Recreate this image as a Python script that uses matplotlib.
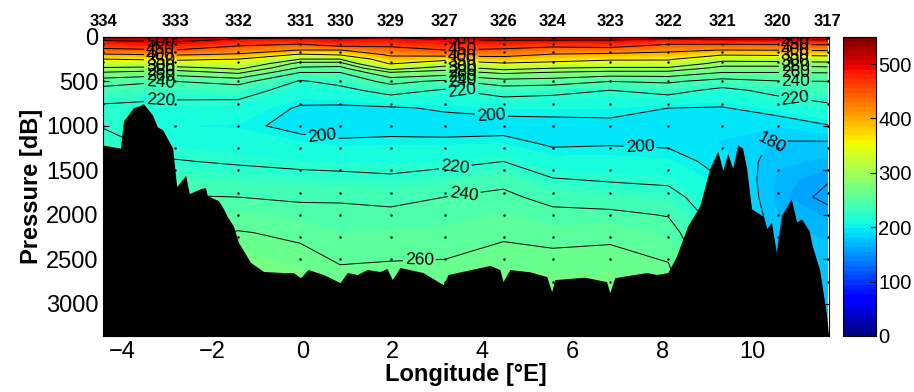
import numpy as np
import matplotlib
matplotlib.use("Agg")
import matplotlib.pyplot as plt
from matplotlib.colors import Normalize
from matplotlib.cm import ScalarMappable

plt.rcParams['font.family'] = ['Liberation Sans', 'DejaVu Sans']

# station numbers and their longitudes
stations = ['334', '333', '332', '331', '330', '329', '327', '326',
            '324', '323', '322', '321', '320', '317']
station_lon = [-4.42, -2.82, -1.42, -0.04, 0.84, 1.96, 3.16, 4.47,
               5.56, 6.84, 8.13, 9.33, 10.56, 11.67]

# pressure levels of the gridded section [dB]
pres = [0, 50, 100, 150, 200, 250, 300, 350, 400, 500, 600, 800, 1000,
        1200, 1400, 1600, 1800, 2000, 2200, 2400, 2600, 2800, 3000, 3400]

# gridded values at each station (one list per station, top -> bottom)
st334 = [540, 492, 468, 438, 394, 350, 323, 297, 279, 249, 233, 216, 219, 226, 232, 236, 240, 245, 247, 249, 251, 252, 254, 255]
st333 = [530, 505, 477, 448, 404, 360, 322, 291, 271, 240, 227, 214, 205, 213, 221, 231, 241, 250, 256, 258, 259, 260, 261, 262]
st332 = [515, 478, 451, 424, 394, 350, 328, 306, 284, 247, 229, 212, 204, 210, 218, 228, 240, 252, 261, 265, 266, 267, 267, 268]
st331 = [510, 475, 435, 398, 344, 300, 272, 257, 240, 218, 211, 198, 195, 206, 215, 226, 237, 247, 257, 262, 265, 266, 267, 267]
st330 = [510, 483, 456, 398, 354, 300, 272, 254, 240, 226, 214, 197, 193, 203, 214, 225, 238, 244, 250, 256, 261, 264, 265, 266]
st329 = [505, 481, 455, 432, 408, 381, 354, 312, 279, 246, 228, 198, 194, 204, 213, 223, 235, 244, 251, 257, 262, 265, 266, 266]
st327 = [515, 489, 469, 449, 417, 366, 316, 289, 272, 236, 218, 202, 193, 204, 215, 228, 240, 246, 252, 258, 262, 266, 266, 267]
st326 = [530, 492, 467, 442, 415, 380, 346, 310, 284, 252, 229, 205, 194, 205, 220, 235, 244, 251, 258, 262, 265, 268, 268, 268]
st324 = [530, 490, 459, 427, 396, 369, 338, 301, 279, 250, 226, 205, 195, 198, 208, 221, 234, 245, 253, 261, 264, 267, 268, 268]
st323 = [525, 491, 464, 428, 389, 357, 326, 296, 274, 240, 220, 205, 196, 199, 208, 218, 231, 244, 256, 262, 264, 267, 268, 268]
st322 = [520, 472, 439, 411, 384, 356, 326, 296, 274, 243, 227, 200, 194, 198, 206, 216, 227, 239, 248, 256, 262, 264, 265, 265]
st321 = [535, 476, 436, 398, 354, 310, 289, 274, 260, 232, 215, 199, 193, 189, 195, 200, 205, 208, 212, 215, 216, 217, 218, 220]
st320 = [535, 479, 438, 400, 358, 314, 289, 274, 260, 239, 226, 207, 191, 178, 172, 168, 167, 170, 173, 176, 177, 178, 179, 180]
st317 = [535, 481, 442, 404, 362, 318, 291, 276, 261, 240, 232, 215, 199, 177, 168, 161, 157, 164, 168, 172, 173, 175, 176, 178]

# bottom topography along the section
bathy_lon = [-4.42, -4.04, -3.97, -3.75, -3.61, -3.53, -3.33, -3.22, -3.10, -2.88,
             -2.79, -2.59, -2.51, -2.26, -2.15, -2.11, -1.86, -1.75, -1.66, -1.53,
             -1.42, -1.15, -0.86, -0.42, -0.20, -0.04, 0.13, 0.47, 0.84, 1.00,
             1.22, 1.44, 1.73, 1.88, 2.00, 2.17, 2.68, 3.13, 3.24, 4.17,
             4.39, 4.46, 4.61, 5.06, 5.43, 5.54, 5.61, 6.27, 6.76, 6.83,
             6.94, 7.65, 7.87, 8.12, 8.31, 8.56, 8.83, 9.05, 9.23, 9.34,
             9.45, 9.56, 9.67, 9.78, 9.87, 9.98, 10.22, 10.31, 10.42, 10.53,
             10.64, 10.86, 10.98, 11.09, 11.26, 11.33, 11.49, 11.64, 11.70]
bathy_p = [1216, 1250, 943, 795, 773, 750, 875, 1011, 1045, 1250,
           1682, 1557, 1761, 1705, 1693, 1784, 1841, 1932, 2023, 2125,
           2307, 2534, 2636, 2648, 2648, 2705, 2614, 2670, 2761, 2648,
           2670, 2614, 2636, 2602, 2727, 2591, 2648, 2784, 2670, 2568,
           2614, 2750, 2614, 2640, 2693, 2864, 2727, 2700, 2750, 2875,
           2705, 2648, 2670, 2648, 2466, 2125, 1898, 1477, 1284, 1500,
           1307, 1477, 1216, 1250, 1477, 1932, 2011, 2159, 2080, 2420,
           2011, 1818, 2080, 2045, 2182, 2352, 2614, 3102, 3400]

# bottle sample depths and deepest sample at each station
sample_p = [10, 75, 175, 280, 500, 750, 1000, 1250, 1500, 1750, 2000, 2250, 2500, 2750]
station_maxp = [1100, 1500, 2250, 2600, 2700, 2600, 2750, 2700, 2750, 2750, 2600, 1250, 2250, 3000]

field = np.column_stack([st334, st333, st332, st331, st330, st329, st327,
                         st326, st324, st323, st322, st321, st320, st317])

fig = plt.figure(figsize=(9.14, 3.92), dpi=100)
ax = fig.add_axes([0.113, 0.143, 0.794, 0.763])
cax = fig.add_axes([0.922, 0.143, 0.036, 0.763])

cmap = plt.get_cmap('jet', 64)
norm = Normalize(0, 550)
ax.contourf(station_lon, pres, field, levels=np.arange(0, 556, 5),
            cmap=cmap, norm=norm, zorder=1)
lines = [160, 180, 200, 220, 240, 260, 280, 300, 350, 400, 450, 500]
cs = ax.contour(station_lon, pres, field, levels=lines, colors='k',
                linewidths=0.7, zorder=2)

# where the labels sit: three stacks near the surface plus a few deep ones
stack_lon = [-3.15, 3.55, 10.95]
stack_levels = [500, 450, 400, 350, 300, 280, 260, 240, 220]
stack_guess = [40, 140, 200, 255, 330, 385, 440, 510, 680]
deep_labels = [(200, 0.44, 1100), (200, 4.2, 850), (200, 7.5, 1250),
               (220, 3.4, 1455), (240, 3.6, 1700), (260, 2.6, 2450),
               (180, 10.42, 1190)]


def on_line(level, lon, p):
    # point where the contour of this level crosses lon, nearest to p
    best = None
    for seg in cs.allsegs[lines.index(level)]:
        x, y = seg[:, 0], seg[:, 1]
        for i in range(len(x) - 1):
            if (x[i] - lon) * (x[i + 1] - lon) <= 0 and x[i] != x[i + 1]:
                t = (lon - x[i]) / (x[i + 1] - x[i])
                yy = y[i] + t * (y[i + 1] - y[i])
                if best is None or abs(yy - p) < abs(best[1] - p):
                    best = (lon, yy)
    return best


spots = []
for slon in stack_lon:
    for lev, g in zip(stack_levels, stack_guess):
        spots.append(on_line(lev, slon, g))
for lev, slon, g in deep_labels:
    spots.append(on_line(lev, slon, g))
spots = [s for s in spots if s is not None]
ax.clabel(cs, manual=spots, fmt='%d', fontsize=12.5,
          inline=True, inline_spacing=2)

for lon, pmax in zip(station_lon, station_maxp):
    pp = [p for p in sample_p if p <= pmax]
    ax.plot([lon] * len(pp), pp, 'k.', ms=1.5, zorder=2)

ax.fill_between(bathy_lon, bathy_p, 4000, color='k', lw=0, zorder=3)

ax.set_xlim(station_lon[0], station_lon[-1] + 0.03)
ax.set_ylim(3360, 0)
ax.set_xticks([-4, -2, 0, 2, 4, 6, 8, 10])
ax.set_yticks([0, 500, 1000, 1500, 2000, 2500, 3000])
ax.set_xticklabels(['\u22124', '\u22122', '0', '2', '4', '6', '8', '10'])
ax.tick_params(direction='in', labelsize=17, right=True, length=4)
ax.set_xlabel('Longitude [°E]', fontsize=17, fontweight='bold', labelpad=0)
ax.set_ylabel('Pressure [dB]', fontsize=17, fontweight='bold', labelpad=2)

top = ax.secondary_xaxis('top')
top.set_xticks(station_lon)
top.set_xticklabels(stations, fontweight='bold', fontsize=12)
top.tick_params(length=0, pad=6)

cb = fig.colorbar(ScalarMappable(norm=norm, cmap=cmap), cax=cax)
cb.set_ticks([0, 100, 200, 300, 400, 500])
cb.ax.tick_params(direction='in', labelsize=14.5, length=4, pad=2)
cb.outline.set_linewidth(0.8)

fig.savefig('out.png', dpi=100)
